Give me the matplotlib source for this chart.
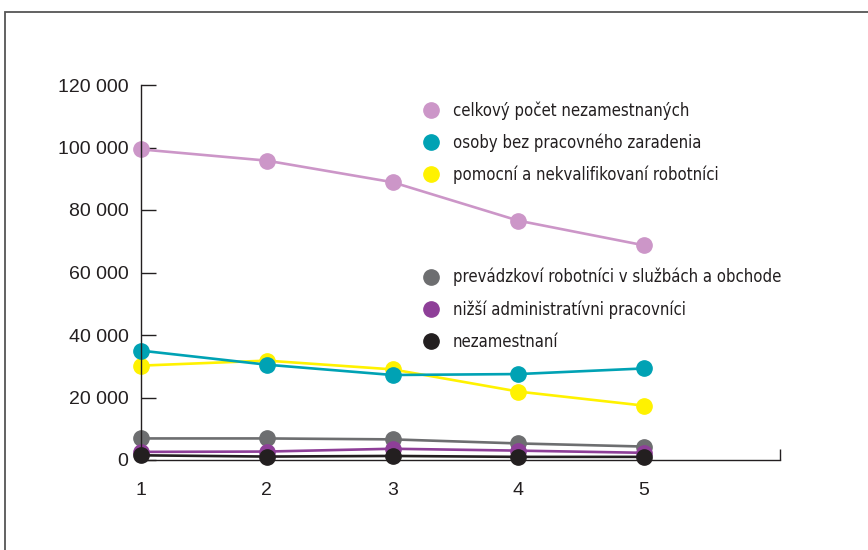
import matplotlib
matplotlib.use('Agg')
import matplotlib.pyplot as plt
from matplotlib.lines import Line2D
from matplotlib.patches import Rectangle
from matplotlib.font_manager import FontProperties

# data
roky = [1, 2, 3, 4, 5]
celkovy = [99400, 95800, 88900, 76600, 68700]
bez_zaradenia = [35000, 30500, 27200, 27500, 29300]
pomocni = [30200, 31800, 29000, 21900, 17400]
prevadzkovi = [6900, 6900, 6600, 5300, 4300]
administrativni = [2600, 2700, 3600, 3000, 2300]
nezamestnani = [1500, 1100, 1300, 1000, 1000]

labels_top = ['celkový počet nezamestnaných',
              'osoby bez pracovného zaradenia',
              'pomocní a nekvalifikovaní robotníci']
labels_bottom = ['prevádzkoví robotníci v službách a obchode',
                 'nižší administratívni pracovníci',
                 'nezamestnaní']
y_ticks = [0, 20000, 40000, 60000, 80000, 100000, 120000]
y_ticklabels = ['0', '20 000', '40 000', '60 000', '80 000', '100 000', '120 000']

PINK = '#cc96c8'
TEAL = '#00a2b4'
YELLOW = '#fff200'
GREY = '#6d6e70'
PURPLE = '#8e3f98'
BLACK = '#231f20'


def configureFig():
    fig = plt.figure(figsize=(8.68, 5.5), dpi=100)
    fig.set_facecolor('white')
    # outer frame, only top and left edges are visible in the picture
    frame = Rectangle((5 / 868, -0.05), 1.1, 1.05 - 12 / 550,
                      transform=fig.transFigure, fill=False,
                      edgecolor='#555555', linewidth=1.3)
    fig.patches.append(frame)
    return fig


def configureAx(fig):
    ax = fig.add_axes([141 / 868, 90 / 550, 639 / 868, 375 / 550])
    ax.set_xlim(1, 1 + 639 / 125.75)
    ax.set_ylim(0, 120000)
    for s in ['top', 'right']:
        ax.spines[s].set_visible(False)
    for s in ['left', 'bottom']:
        ax.spines[s].set_color(BLACK)
        ax.spines[s].set_linewidth(1.0)

    ax.set_yticks(y_ticks)
    ax.set_yticklabels(y_ticklabels, fontfamily='Liberation Sans',
                       fontsize=14, color=BLACK)
    ax.tick_params(axis='y', direction='in', length=11, width=1.0,
                   color=BLACK, pad=9)
    ax.set_xticks(roky)
    ax.set_xticklabels([str(r) for r in roky], fontfamily='Liberation Sans',
                       fontsize=14, color=BLACK)
    ax.tick_params(axis='x', length=0, pad=16)
    ax.set_xticks([ax.get_xlim()[1]], minor=True)
    ax.tick_params(axis='x', which='minor', direction='in', length=8,
                   width=1.0, color=BLACK)
    return ax


def main():
    fig = configureFig()
    ax = configureAx(fig)

    series = [
        (celkovy, PINK),
        (pomocni, YELLOW),
        (bez_zaradenia, TEAL),
        (prevadzkovi, GREY),
        (administrativni, PURPLE),
        (nezamestnani, BLACK),
    ]
    for vals, col in series:
        ax.plot(roky, vals, color=col, lw=1.9, marker='o', ms=11,
                clip_on=False)

    def handles(cols):
        return [Line2D([], [], ls='none', marker='o', ms=11, color=c)
                for c in cols]

    legfont = FontProperties(family='DejaVu Sans', stretch='condensed', size=12)

    leg1 = ax.legend(handles([PINK, TEAL, YELLOW]), labels_top,
                     loc='upper left', bbox_to_anchor=(421 / 868, 1 - 101 / 550),
                     bbox_transform=fig.transFigure, frameon=False,
                     prop=legfont,
                     labelspacing=0.83, handletextpad=0.65, handlelength=1.25,
                     borderaxespad=0, borderpad=0)
    for t in leg1.get_texts():
        t.set_color(BLACK)
    ax.add_artist(leg1)

    leg2 = ax.legend(handles([GREY, PURPLE, BLACK]), labels_bottom,
                     loc='upper left', bbox_to_anchor=(421 / 868, 1 - 268 / 550),
                     bbox_transform=fig.transFigure, frameon=False,
                     prop=legfont,
                     labelspacing=0.83, handletextpad=0.65, handlelength=1.25,
                     borderaxespad=0, borderpad=0)
    for t in leg2.get_texts():
        t.set_color(BLACK)

    fig.savefig('out.png', dpi=100, facecolor='white')


if __name__ == '__main__':
    main()
